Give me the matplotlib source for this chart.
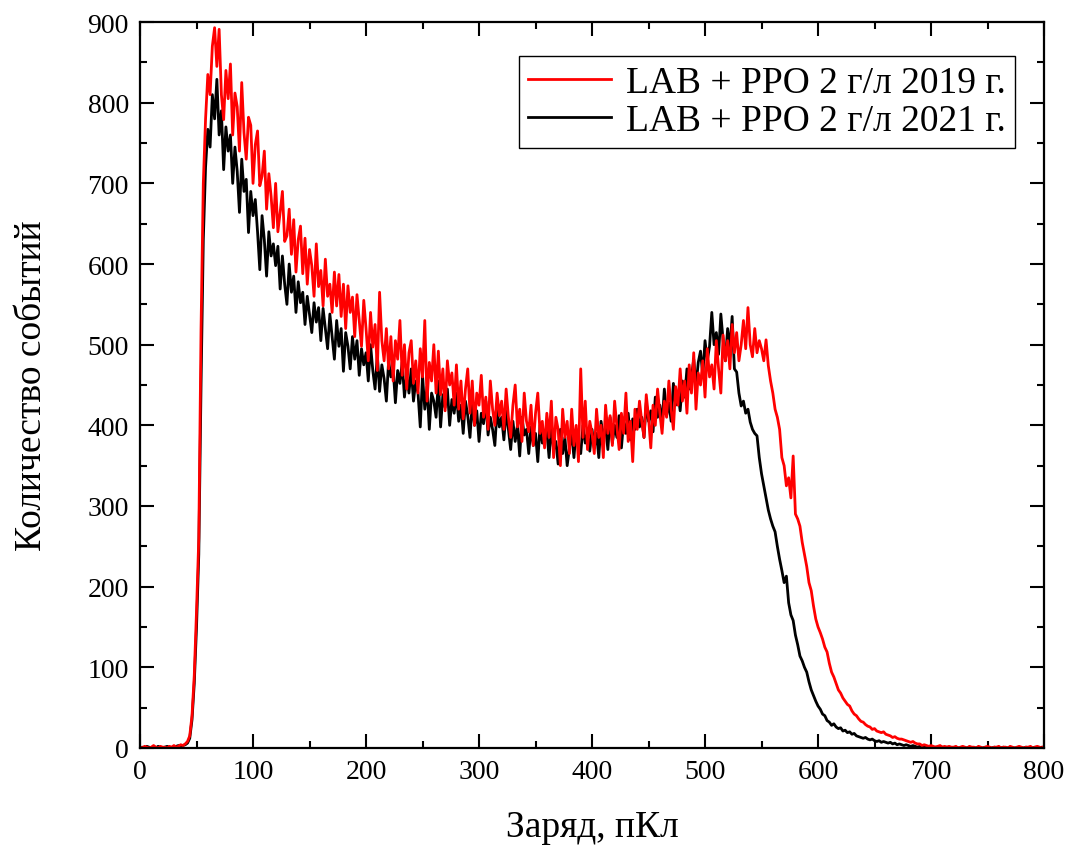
import matplotlib
matplotlib.use("Agg")
import matplotlib.pyplot as plt
import numpy as np
from matplotlib.ticker import MultipleLocator

plt.rcParams['font.family'] = ['Liberation Serif', 'DejaVu Serif']

# charge axis, pC (one point every 2 pC, 0..800)
charge = np.arange(0, 801, 2)

# LAB + PPO 2 g/l, 2019 (red)
counts_2019 = [
    1, 0, 2, 1, 0, 1, 3, 1, 0, 2, 1, 1, 0, 2, 1, 3, 1, 2, 4, 3,
    5, 8, 15, 40, 90, 170, 260, 520, 700, 780, 835, 810, 870, 893, 845, 891, 810, 779, 840, 805,
    848, 760, 812, 795, 740, 825, 763, 730, 782, 772, 700, 748, 765, 697, 709, 740, 668, 712, 684, 645,
    700, 640, 664, 690, 628, 635, 668, 612, 655, 590, 630, 647, 588, 632, 575, 618, 598, 560, 625, 572,
    592, 548, 606, 560, 575, 540, 590, 548, 587, 535, 575, 520, 573, 540, 559, 510, 562, 530, 498, 555,
    520, 480, 540, 497, 525, 468, 565, 505, 480, 520, 470, 510, 455, 505, 482, 530, 462, 500, 445, 490,
    505, 452, 480, 440, 495, 460, 530, 430, 478, 455, 500, 440, 492, 438, 470, 418, 480, 450, 465, 425,
    475, 420, 455, 408, 445, 470, 415, 455, 400, 440, 425, 462, 410, 435, 395, 455, 420, 400, 440, 412,
    430, 395, 445, 410, 385, 425, 450, 398, 420, 380, 440, 405, 392, 425, 375, 415, 440, 390, 405, 372,
    415, 385, 430, 360, 410, 395, 350, 420, 385, 405, 365, 420, 375, 400, 355, 470, 385, 430, 370, 405,
    390, 365, 420, 385, 400, 360, 425, 390, 412, 375, 430, 398, 370, 415, 390, 440, 380, 405, 355, 420,
    395, 430, 405, 385, 438, 410, 372, 425, 400, 445, 415, 390, 430, 410, 455, 420, 395, 448, 425, 470,
    430, 455, 415, 475, 440, 490, 420, 465, 450, 480, 435, 495, 460, 475, 445, 505, 470, 440, 512, 480,
    505, 470, 525, 490, 515, 480, 500, 530, 495, 546, 500, 485, 520, 490, 505, 495, 480, 506, 474, 455,
    440, 420, 410, 395, 360, 350, 325, 335, 310, 362, 290, 284, 275, 255, 240, 225, 205, 195, 176, 160,
    150, 143, 135, 125, 119, 105, 94, 88, 80, 72, 68, 62, 58, 54, 52, 46, 42, 40, 36, 33,
    32, 29, 27, 26, 23, 24, 21, 20, 19, 20, 17, 16, 15, 13, 14, 12, 11, 11, 10, 9,
    8, 7, 8, 6, 5, 5, 3, 4, 3, 2, 3, 2, 1, 2, 3, 1, 2, 1, 2, 1,
    1, 2, 0, 1, 2, 1, 0, 2, 1, 1, 0, 2, 1, 0, 1, 2, 1, 0, 1, 1,
    2, 0, 1, 1, 0, 2, 1, 0, 1, 2, 1, 0, 1, 1, 2, 0, 1, 2, 1, 0,
    2,
]

# LAB + PPO 2 g/l, 2021 (black)
counts_2021 = [
    0, 1, 0, 2, 1, 0, 1, 0, 2, 1, 0, 1, 2, 1, 0, 1, 2, 3, 2, 3,
    4, 6, 12, 35, 80, 150, 240, 450, 630, 720, 767, 745, 810, 780, 829, 760, 790, 717, 770, 740,
    760, 700, 745, 715, 664, 730, 690, 705, 639, 690, 660, 680, 640, 593, 660, 630, 585, 640, 610, 625,
    598, 622, 569, 610, 575, 550, 600, 565, 585, 540, 578, 552, 565, 525, 560, 538, 515, 552, 528, 546,
    505, 545, 520, 495, 538, 510, 482, 530, 498, 520, 467, 515, 498, 470, 510, 482, 505, 462, 495, 475,
    490, 455, 500, 468, 445, 488, 442, 475, 458, 430, 480, 460, 470, 428, 468, 452, 478, 435, 462, 440,
    470, 430, 455, 440, 398, 462, 420, 448, 395, 440, 430, 410, 455, 398, 438, 422, 445, 400, 432, 415,
    440, 405, 425, 390, 430, 412, 385, 428, 400, 418, 380, 415, 402, 430, 388, 410, 395, 375, 420, 398,
    410, 382, 418, 395, 370, 405, 380, 400, 362, 410, 388, 395, 365, 398, 375, 390, 355, 400, 378, 385,
    392, 360, 398, 370, 380, 352, 395, 365, 385, 350, 372, 390, 360, 395, 372, 365, 400, 378, 390, 368,
    395, 372, 390, 360, 405, 385, 398, 370, 410, 378, 400, 385, 412, 372, 405, 390, 415, 382, 408, 395,
    420, 398, 410, 385, 428, 405, 418, 392, 435, 410, 425, 402, 445, 412, 428, 405, 452, 425, 440, 418,
    455, 435, 470, 445, 460, 482, 448, 478, 492, 462, 505, 480, 498, 540, 500, 515, 488, 538, 505, 480,
    520, 495, 535, 470, 466, 440, 424, 430, 415, 420, 404, 395, 390, 387, 360, 340, 325, 310, 295, 284,
    275, 268, 250, 234, 220, 205, 213, 180, 165, 158, 140, 128, 114, 108, 100, 94, 82, 72, 65, 58,
    52, 48, 42, 40, 34, 32, 28, 30, 26, 24, 25, 21, 22, 19, 20, 17, 18, 15, 14, 13,
    12, 13, 11, 10, 11, 9, 8, 9, 7, 8, 7, 6, 7, 5, 6, 4, 5, 4, 3, 4,
    3, 2, 3, 2, 1, 2, 2, 1, 1, 2, 1, 0, 1, 1, 0, 1, 0, 1, 0, 0,
    0, 1, 0, 0, 1, 0, 0, 1, 0, 0, 0, 1, 0, 0, 1, 0, 0, 0, 1, 0,
    0, 0, 1, 0, 0, 1, 0, 0, 0, 1, 0, 0, 1, 0, 0, 0, 1, 0, 0, 1,
    0,
]

labels = ["LAB + PPO 2 г/л 2019 г.", "LAB + PPO 2 г/л 2021 г."]

fig = plt.figure(figsize=(10.73, 8.54), dpi=100)
ax = fig.add_axes([0.1305, 0.123, 0.8425, 0.85])

line_21, = ax.plot(charge, counts_2021, color="black", lw=2.0, label=labels[1])
line_19, = ax.plot(charge, counts_2019, color="#ff0000", lw=2.0, label=labels[0])

ax.set_xlim(0, 800)
ax.set_ylim(0, 900)
ax.xaxis.set_major_locator(MultipleLocator(100))
ax.xaxis.set_minor_locator(MultipleLocator(50))
ax.yaxis.set_major_locator(MultipleLocator(100))
ax.yaxis.set_minor_locator(MultipleLocator(50))
ax.tick_params(which="both", direction="in", top=True, right=True, width=1.5, labelsize=20)
ax.tick_params(which="major", length=10, pad=8)
ax.tick_params(which="minor", length=5)
for sp in ax.spines.values():
    sp.set_linewidth(1.6)

ax.set_xlabel("Заряд, пКл", fontsize=27, labelpad=18)
ax.set_ylabel("Количество событий", fontsize=27, labelpad=28)

leg = ax.legend(handles=[line_19, line_21], loc="upper right", bbox_to_anchor=(0.968, 0.953),
                fontsize=27, fancybox=False, edgecolor="black", framealpha=1,
                handlelength=2.2, borderpad=0.25, labelspacing=0.1, handletextpad=0.4,
                borderaxespad=0.0)
leg.get_frame().set_linewidth(1.0)

fig.savefig("out.png", dpi=100)
